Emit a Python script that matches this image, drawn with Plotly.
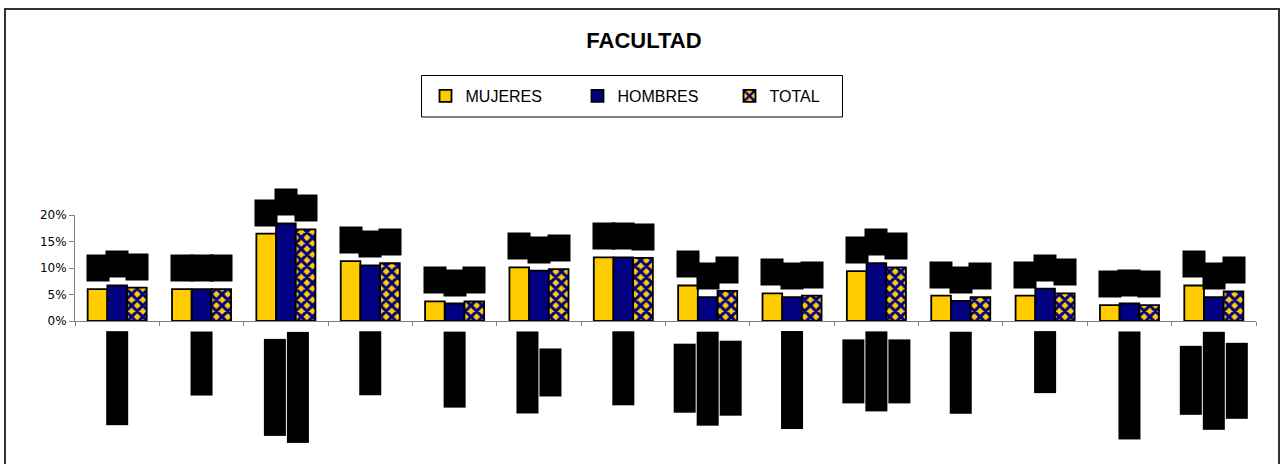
import plotly.graph_objects as go

# ---------------- data ----------------
CATEGORIES = ["Facultad 1", "Facultad 2", "Facultad 3", "Facultad 4", "Facultad 5",
              "Facultad 6", "Facultad 7", "Facultad 8", "Facultad 9", "Facultad 10",
              "Facultad 11", "Facultad 12", "Facultad 13", "Facultad 14"]
# category label text split into lines (labels are redacted in the reference)
LABEL_LINES = [["Facultad 1"], ["Facultad 2"], ["Facultad 3", "(2)"], ["Facultad 4"],
               ["Facultad 5"], ["Facultad 6", "(2)"], ["Facultad 7"],
               ["Facultad 8", "(2)", "(3)"], ["Facultad 9"], ["Facultad 10", "(2)", "(3)"],
               ["Facultad 11"], ["Facultad 12"], ["Facultad 13"], ["Facultad 14", "(2)", "(3)"]]
SERIES_NAMES = ["MUJERES", "HOMBRES", "TOTAL"]
MUJERES = [0.060, 0.060, 0.165, 0.113, 0.037, 0.101, 0.120, 0.067, 0.052, 0.094, 0.048, 0.048, 0.030, 0.067]
HOMBRES = [0.067, 0.060, 0.184, 0.105, 0.033, 0.095, 0.120, 0.045, 0.045, 0.109, 0.038, 0.061, 0.033, 0.045]
TOTAL = [0.063, 0.060, 0.173, 0.109, 0.037, 0.098, 0.119, 0.057, 0.048, 0.101, 0.045, 0.052, 0.030, 0.056]
Y_TICKS = [0, 0.05, 0.10, 0.15, 0.20]
Y_TICK_LABELS = ["0%", "5%", "10%", "15%", "20%"]
TITLE = "FACULTAD"

# ---------------- layout constants ----------------
W, H = 1280, 464
ML, MR, MT, MB = 75, 24, 215, 143
PW, PH = W - ML - MR, H - MT - MB
YELLOW, NAVY = "#FFCC00", "#000080"
FONT = "Arial, Liberation Sans, sans-serif"
BAR_GAP = 0.3
# redaction-box lengths (px) of each label line, as seen in the reference
LABEL_BOX_LEN = [[91], [61], [94, 108], [61], [73], [79, 45], [71], [66, 91, 72], [95],
                 [61, 77, 61], [79], [59], [105], [66, 95, 73]]


def px_x(px):
    return (px - ML) / PW


def px_y(py):
    return (H - MB - py) / PH


fig = go.Figure()
outline = dict(color="black", width=1.8)
series = [MUJERES, HOMBRES, TOTAL]
markers = [
    dict(color=YELLOW, line=outline),
    dict(color=NAVY, line=outline),
    dict(color=YELLOW, line=outline,
         pattern=dict(shape="x", fgcolor=NAVY, bgcolor=YELLOW, size=8, solidity=0.6,
                      fillmode="replace")),
]
for name, vals, mk in zip(SERIES_NAMES, series, markers):
    fig.add_trace(go.Bar(x=CATEGORIES, y=vals, name=name, marker=mk,
                         hovertemplate="%{x}: %{y:.1%}<extra>" + name + "</extra>"))

# data labels (redacted in the reference: black boxes above each bar)
n = len(series)
bw = (1 - BAR_GAP) / n
for k, vals in enumerate(series):
    off = (k - (n - 1) / 2) * bw
    for i, v in enumerate(vals):
        fig.add_annotation(x=i + off, y=v, xref="x", yref="y",
                           text=f"{v * 100:.1f}%".replace(".", ","),
                           showarrow=False, yanchor="bottom", yshift=7,
                           bgcolor="black", font=dict(color="black", size=6, family=FONT),
                           width=20, height=24, borderpad=1)

# category labels (rotated; redacted in the reference: black columns)
COL_STEP = 23
for i, (lines, lens) in enumerate(zip(LABEL_LINES, LABEL_BOX_LEN)):
    m = len(lines)
    center_shift = 12 + max(lens) / 2
    for j, (txt, ln) in enumerate(zip(lines, lens)):
        fig.add_annotation(x=i, y=0, xref="x", yref="paper", text=txt, showarrow=False,
                           textangle=-90, xanchor="center", yanchor="middle",
                           xshift=(j - (m - 1) / 2) * COL_STEP, yshift=-center_shift,
                           bgcolor="black", font=dict(color="black", size=8, family=FONT),
                           width=ln, height=19, borderpad=1)

# outer chart border and legend frame
fig.add_shape(type="rect", xref="paper", yref="paper",
              x0=px_x(5), x1=px_x(1279), y0=px_y(470), y1=px_y(9),
              line=dict(color="#333333", width=2), layer="above")
fig.add_shape(type="rect", xref="paper", yref="paper",
              x0=px_x(421.5), x1=px_x(842.5), y0=px_y(117), y1=px_y(75.5),
              line=dict(color="black", width=1), layer="above")

fig.update_layout(
    width=W, height=H,
    margin=dict(l=ML, r=MR, t=MT, b=MB),
    paper_bgcolor="white", plot_bgcolor="white",
    barmode="group", bargap=BAR_GAP, bargroupgap=0,
    font=dict(family=FONT, color="black"),
    title=dict(text="<b>" + TITLE + "</b>", x=644 / W, xref="container", xanchor="center",
               y=1 - 40 / H, yref="container", yanchor="middle",
               font=dict(size=22, family=FONT, color="black")),
    legend=dict(orientation="h", xref="container", yref="container",
                x=425.5 / W, xanchor="left", y=1 - 96 / H, yanchor="middle",
                entrywidth=107, bgcolor="rgba(0,0,0,0)", borderwidth=0,
                font=dict(size=16, family=FONT, color="black")),
    showlegend=True,
)
fig.update_xaxes(type="category", showticklabels=False, showline=True, linecolor="#808080",
                 linewidth=1, ticks="outside", tickson="boundaries", ticklen=4,
                 tickcolor="#808080", showgrid=False, zeroline=False, fixedrange=True)
fig.update_yaxes(range=[0, 0.2], tickvals=Y_TICKS, ticktext=Y_TICK_LABELS, showline=True,
                 linecolor="#808080", linewidth=1, ticks="outside", ticklen=5,
                 tickcolor="#808080", showgrid=False, zeroline=False,
                 tickfont=dict(size=12, family="DejaVu Sans, sans-serif", color="black"),
                 fixedrange=True)

fig.write_html("out.html", config={"displayModeBar": False},
               post_script="document.body.style.margin='0';")
